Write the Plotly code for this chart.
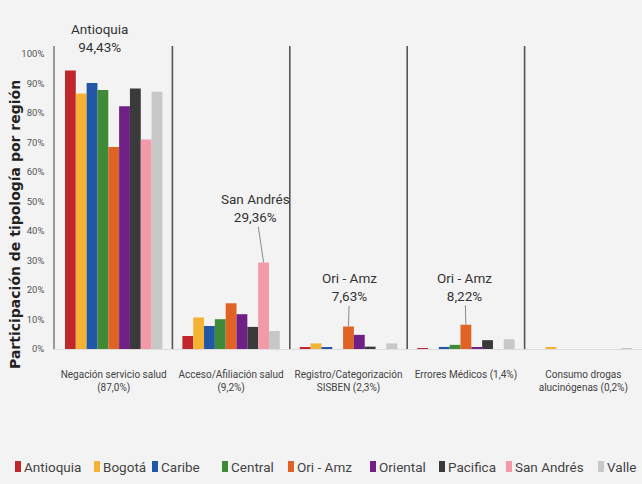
import plotly.graph_objects as go

# data (% participation by region)
categories = [
    "Negación servicio salud<br>(87,0%)",
    "Acceso/Afiliación salud<br>(9,2%)",
    "Registro/Categorización<br>SISBEN (2,3%)",
    "Errores Médicos (1,4%)",
    "Consumo drogas<br>alucinógenas (0,2%)",
]
regions = ["Antioquia", "Bogotá", "Caribe", "Central", "Ori - Amz",
           "Oriental", "Pacifica", "San Andrés", "Valle"]
y_ticks = list(range(0, 101, 10))
y_labels = [f"{v}%" for v in y_ticks]

antioquia = [94.43, 4.4, 0.4, 0.3, 0.0]
bogota = [86.6, 10.7, 1.9, 0.0, 0.5]
caribe = [90.2, 7.8, 0.5, 0.7, 0.0]
central = [87.8, 10.1, 0.0, 1.4, 0.0]
ori_amz = [68.5, 15.5, 7.63, 8.22, 0.0]
oriental = [82.3, 11.8, 4.8, 0.5, 0.0]
pacifica = [88.3, 7.5, 0.8, 3.0, 0.0]
san_andres = [71.0, 29.36, 0.0, 0.0, 0.0]
valle = [87.2, 6.1, 1.9, 3.3, 0.1]

series = [antioquia, bogota, caribe, central, ori_amz,
          oriental, pacifica, san_andres, valle]
colors = ["#c0272d", "#f5b335", "#2257a8", "#3f8a36", "#e06326",
          "#6f1f86", "#3a3a3a", "#f29aa8", "#c8c8c8"]

# callouts: (region index, category index, label, ax, ay)
callouts = [
    (7, 1, "San Andrés<br>29,36%", -8, -54),
    (4, 2, "Ori - Amz<br>7,63%", 1, -39),
    (4, 3, "Ori - Amz<br>8,22%", -1, -38),
]

W, H = 642, 484
ML, MR, MT, MB = 55, 0, 46, 135
PW, PH = W - ML - MR, H - MT - MB
BARGAP = 0.17
FONT = "Roboto, sans-serif"
BG = "#f3f3f3"


def px_x(px):
    return (px - ML) / PW


def px_y(py):
    return (H - MB - py) / PH


def bar_offset(i, n=len(regions), gap=BARGAP):
    w = (1 - gap) / n
    return -(1 - gap) / 2 + (i + 0.5) * w


fig = go.Figure()
for name, vals, col in zip(regions, series, colors):
    fig.add_trace(go.Bar(x=list(range(len(categories))), y=vals, name=name,
                         marker=dict(color=col, line=dict(width=0))))

# vertical separators between groups
for k in range(len(categories) - 1):
    fig.add_shape(type="line", xref="x", yref="paper", x0=k + 0.5, x1=k + 0.5,
                  y0=0, y1=1, line=dict(color="#555555", width=1.6))

annotations = []
# Antioquia label (no leader line)
annotations.append(dict(x=0 + bar_offset(0), y=antioquia[0], text="Antioquia<br>94,43%",
                        showarrow=False, xshift=29, yshift=32,
                        font=dict(family=FONT, size=13.5, color="#333333")))
for ri, ci, txt, ax, ay in callouts:
    annotations.append(dict(x=ci + bar_offset(ri), y=series[ri][ci], text=txt,
                            showarrow=True, arrowhead=0, arrowwidth=1,
                            arrowcolor="#8a8a8a", ax=ax, ay=ay, standoff=0,
                            font=dict(family=FONT, size=13.5, color="#333333")))

# y title
annotations.append(dict(xref="paper", yref="paper", x=px_x(15), y=px_y(225),
                        xanchor="center", yanchor="middle",
                        text="<b>Participación de tipología por región</b>",
                        textangle=-90, showarrow=False,
                        font=dict(family="DejaVu Sans", size=14, color="#222222")))

# hand placed legend like the original Excel one
legend_x = [15, 94, 152, 222, 288, 370, 439, 506, 598]
for name, col, lx in zip(regions, colors, legend_x):
    fig.add_shape(type="rect", xref="paper", yref="paper",
                  x0=px_x(lx), x1=px_x(lx + 6), y0=px_y(472), y1=px_y(461),
                  fillcolor=col, line=dict(width=0))
    annotations.append(dict(xref="paper", yref="paper", x=px_x(lx + 7), y=px_y(466.5),
                            text=name, showarrow=False, xanchor="left",
                            yanchor="middle",
                            font=dict(family=FONT, size=13.5, color="#444444")))

fig.update_layout(
    width=W, height=H,
    margin=dict(l=ML, r=MR, t=MT, b=MB, autoexpand=False),
    paper_bgcolor=BG, plot_bgcolor=BG,
    barmode="group", bargap=BARGAP, bargroupgap=0,
    showlegend=False,
    annotations=annotations,
    xaxis=dict(tickvals=list(range(len(categories))), ticktext=categories,
               range=[-0.5, len(categories) - 0.5], tickangle=0,
               showline=True, linecolor="#dddddd", linewidth=1,
               showgrid=False, zeroline=False, ticks="",
               ticklabelstandoff=16,
               tickfont=dict(family=FONT, size=10, color="#444444")),
    yaxis=dict(range=[0, PH / 2.95], tickvals=y_ticks, ticktext=y_labels,
               showline=True, linecolor="#999999", linewidth=1.5,
               showgrid=False, zeroline=False, ticks="",
               ticklabelstandoff=7,
               tickfont=dict(family=FONT, size=9.5, color="#555555")),
)

fig.write_html("out.html", config={"displayModeBar": False},
               post_script="document.body.style.margin='0';")
